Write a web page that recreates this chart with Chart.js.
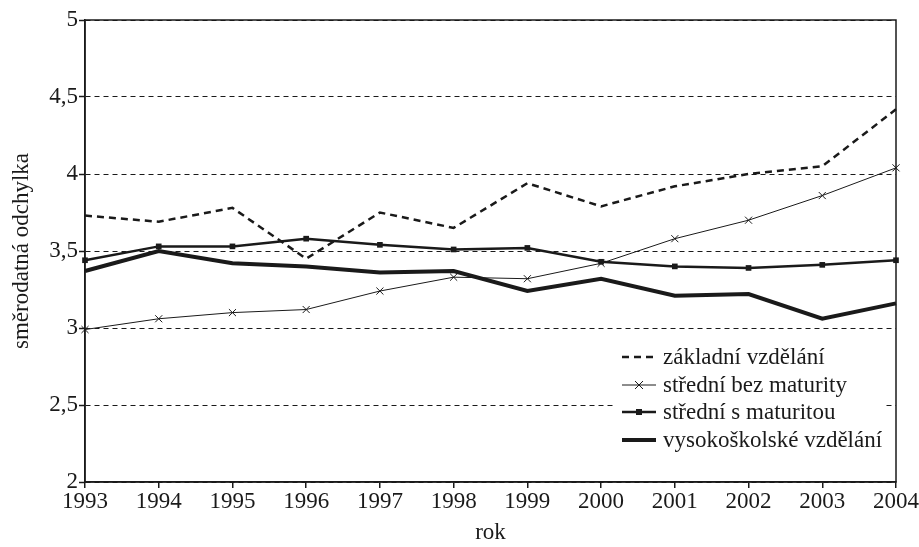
<!DOCTYPE html>
<html><head><meta charset="utf-8">
<script src="https://cdn.jsdelivr.net/npm/chart.js@4"></script>
<style>html,body{margin:0;padding:0;background:#fff}#wrap{width:919px;height:547px}</style>
</head><body><div id="wrap"><canvas id="c" width="919" height="547"></canvas></div>
<script>
const years = ["1993","1994","1995","1996","1997","1998","1999","2000","2001","2002","2003","2004"];
const zakladni = [3.73,3.69,3.78,3.45,3.75,3.65,3.94,3.79,3.92,4.00,4.05,4.42];
const stredniBez = [2.99,3.06,3.10,3.12,3.24,3.33,3.32,3.42,3.58,3.70,3.86,4.04];
const stredniS = [3.44,3.53,3.53,3.58,3.54,3.51,3.52,3.43,3.40,3.39,3.41,3.44];
const vysokoskolske = [3.37,3.50,3.42,3.40,3.36,3.37,3.24,3.32,3.21,3.22,3.06,3.16];
const yTicks = [2,2.5,3,3.5,4,4.5,5];

const FONT = "'Liberation Serif', 'DejaVu Serif', serif";
const INK = '#1a1a1a';
const FS = 23;

const frame = {
  id:'frame',
  afterDatasetsDraw(chart){
    const {ctx, chartArea:a} = chart;
    ctx.save();
    ctx.strokeStyle = INK; ctx.lineWidth = 1.5;
    ctx.strokeRect(a.left, a.top, a.right-a.left, a.bottom-a.top);
    ctx.restore();
  }
};

const legendBox = {
  id:'legendBox',
  beforeDatasetsDraw(chart){
    const {ctx} = chart;
    ctx.save();
    ctx.fillStyle = '#fff';
    ctx.fillRect(615, 342, 271, 133);
    ctx.restore();
  },
  afterDatasetsDraw(chart){
    const {ctx} = chart;
    ctx.save();
    ctx.font = FS + 'px ' + FONT;
    ctx.textBaseline = 'middle';
    const rows = [357, 385, 412, 440];
    chart.data.datasets.forEach((ds, i) => {
      const y = rows[i];
      ctx.strokeStyle = INK; ctx.fillStyle = INK;
      ctx.lineWidth = ds.borderWidth;
      ctx.setLineDash(ds.borderDash || []);
      ctx.beginPath(); ctx.moveTo(622, y); ctx.lineTo(656, y); ctx.stroke();
      ctx.setLineDash([]);
      if (ds.pointStyle === 'crossRot') {
        ctx.lineWidth = 1;
        ctx.beginPath(); ctx.moveTo(635, y-4); ctx.lineTo(643, y+4); ctx.moveTo(643, y-4); ctx.lineTo(635, y+4); ctx.stroke();
      } else if (ds.pointStyle === 'rect') {
        ctx.fillRect(636, y-3, 6, 6);
      }
      ctx.fillStyle = INK;
      ctx.fillText(ds.label, 663, y + 1);
    });
    ctx.restore();
  }
};

new Chart(document.getElementById('c'), {
  type:'line',
  data:{
    labels: years,
    datasets:[
      {label:'základní vzdělání', data:zakladni, borderColor:INK, borderWidth:2.5, borderDash:[7,5], pointRadius:0, pointStyle:false, tension:0},
      {label:'střední bez maturity', data:stredniBez, borderColor:INK, borderWidth:1, pointStyle:'crossRot', pointRadius:5, pointBorderWidth:1, pointBorderColor:INK, tension:0},
      {label:'střední s maturitou', data:stredniS, borderColor:INK, borderWidth:2.5, pointStyle:'rect', pointRadius:4, pointBackgroundColor:INK, pointBorderColor:INK, pointBorderWidth:0, tension:0},
      {label:'vysokoškolské vzdělání', data:vysokoskolske, borderColor:INK, borderWidth:4, pointRadius:0, pointStyle:false, tension:0}
    ]
  },
  options:{
    responsive:false, animation:false, devicePixelRatio:1,
    layout:{padding:{left:0,right:20,top:20,bottom:0}},
    plugins:{legend:{display:false}, tooltip:{enabled:false}},
    scales:{
      x:{
        offset:false,
        grid:{drawOnChartArea:false, drawTicks:true, tickLength:6, color:INK, lineWidth:1.5},
        border:{display:true, color:INK, width:1.5},
        ticks:{color:INK, font:{family:FONT, size:FS}, padding:0, maxRotation:0, autoSkip:false},
        title:{display:true, text:'rok', color:INK, font:{family:FONT, size:FS}, padding:{top:15,bottom:0}},
        afterFit(s){ s.height = 65; }
      },
      y:{
        min:2, max:5,
        afterBuildTicks(s){ s.ticks = yTicks.map(v=>({value:v})); },
        grid:{color:INK, lineWidth:1, tickBorderDash:[], tickColor:INK, tickLength:6, tickWidth:1.5},
        border:{display:true, color:INK, width:1.5, dash:[5,4]},
        ticks:{color:INK, font:{family:FONT, size:FS}, padding:1, callback:v=>String(v).replace('.',',')},
        title:{display:true, text:'směrodatná odchylka', color:INK, font:{family:FONT, size:FS}, padding:{top:8,bottom:0}},
        afterFit(s){ s.width = 85; }
      }
    }
  },
  plugins:[frame, legendBox]
});
</script></body></html>
